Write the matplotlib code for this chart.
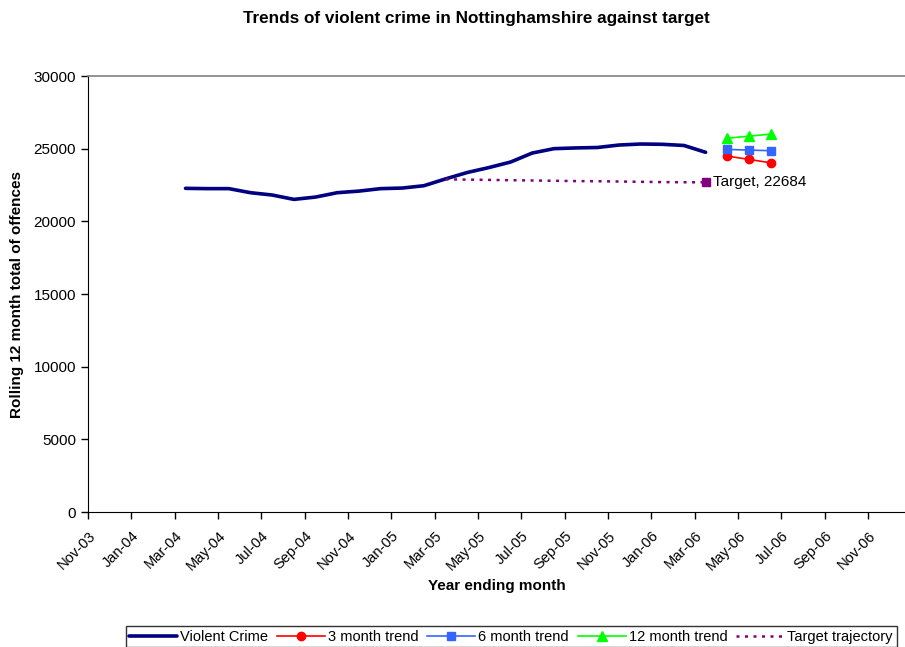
import matplotlib
matplotlib.use("Agg")
import matplotlib.pyplot as plt

plt.rcParams['font.family'] = ['Liberation Sans', 'DejaVu Sans']

# month labels on the axis, Nov-03 .. Nov-06 every two months
tick_labels = ["Nov-03", "Jan-04", "Mar-04", "May-04", "Jul-04", "Sep-04", "Nov-04",
               "Jan-05", "Mar-05", "May-05", "Jul-05", "Sep-05", "Nov-05",
               "Jan-06", "Mar-06", "May-06", "Jul-06", "Sep-06", "Nov-06"]

# months counted from Nov-03; points sit mid-month
crime_months = [4.5, 5.5, 6.5, 7.5, 8.5, 9.5, 10.5, 11.5, 12.5, 13.5, 14.5, 15.5, 16.5,
                17.5, 18.5, 19.5, 20.5, 21.5, 22.5, 23.5, 24.5, 25.5, 26.5, 27.5, 28.5]
violent_crime = [22270, 22250, 22250, 21970, 21810, 21510, 21670, 21970, 22080, 22250,
                 22290, 22450, 22920, 23360, 23700, 24080, 24700, 25000, 25050, 25080,
                 25250, 25320, 25300, 25220, 24750]

trend_months = [29.5, 30.5, 31.5]
trend_3m = [24490, 24260, 24030]
trend_6m = [24950, 24900, 24860]
trend_12m = [25720, 25860, 26000]

target_months = [16.5, 17.5, 18.5, 19.5, 20.5, 21.5, 22.5, 23.5, 24.5, 25.5, 26.5, 27.5, 28.5]
target_trajectory = [22890, 22870, 22850, 22830, 22810, 22790, 22770, 22760, 22740,
                     22720, 22700, 22690, 22684]
target_month = 28.5
target_value = 22684

fig = plt.figure(figsize=(9.05, 6.47), dpi=100)
ax = fig.add_axes([88 / 905, 135 / 647, 817 / 905, 436 / 647])

ax.plot(crime_months, violent_crime, color="#000080", lw=2.6,
        solid_joinstyle="round", solid_capstyle="round", label="Violent Crime")
ax.plot(trend_months, trend_3m, color="#FF0000", lw=1.2, marker="o", ms=6,
        label="3 month trend")
ax.plot(trend_months, trend_6m, color="#3366FF", lw=1.2, marker="s", ms=6,
        label="6 month trend")
ax.plot(trend_months, trend_12m, color="#00FF00", lw=1.2, marker="^", ms=7,
        label="12 month trend")
ax.plot(target_months, target_trajectory, color="#800080", lw=1.8,
        linestyle=(0, (1.2, 2.2)), label="Target trajectory")
ax.plot([target_month], [target_value], color="#800080", marker="s", ms=6, ls="none")
ax.text(target_month + 0.35, target_value, "Target, %d" % target_value,
        fontsize=11, va="center", ha="left")

ax.set_xlim(0, 37.7)
ax.set_ylim(0, 30000)
ax.set_xticks(range(0, 37, 2))
ax.set_xticklabels(tick_labels, rotation=45, ha="right", rotation_mode="anchor",
                   fontsize=10.5)
ax.set_yticks(range(0, 30001, 5000))
ax.tick_params(axis="y", labelsize=11, direction="out", length=5, width=1)
ax.tick_params(axis="x", direction="out", length=5, width=1, pad=7)

ax.spines["right"].set_visible(False)
ax.spines["top"].set_color("#808080")
ax.spines["top"].set_linewidth(1.2)
ax.spines["left"].set_color("#000000")
ax.spines["bottom"].set_color("#000000")

ax.set_xlabel("Year ending month", fontsize=11, fontweight="bold", labelpad=4)
ax.set_ylabel("Rolling 12 month total of offences", fontsize=11, fontweight="bold",
              labelpad=7)

fig.text(476 / 905, 1 - 19 / 647,
         "Trends of violent crime in Nottinghamshire against target",
         ha="center", va="center", fontsize=12.3, fontweight="bold")

leg = fig.legend(loc="upper center", bbox_to_anchor=(511 / 905, 1 - 626 / 647), ncol=5,
                 fontsize=10.5, frameon=True, fancybox=False, handlelength=3.3,
                 handletextpad=0.2, columnspacing=0.6, borderpad=0.25,
                 borderaxespad=0)
leg.get_frame().set_edgecolor("black")
leg.get_frame().set_linewidth(1)

fig.savefig("out.png", dpi=100)
